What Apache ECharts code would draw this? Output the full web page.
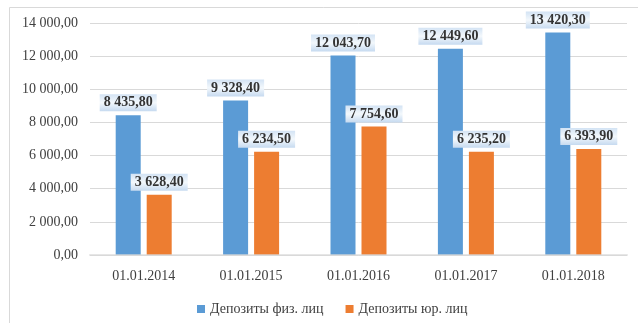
<!DOCTYPE html>
<html>
<head>
<meta charset="utf-8">
<script src="https://cdn.jsdelivr.net/npm/echarts@6/dist/echarts.min.js"></script>
<style>
  html, body { margin: 0; padding: 0; background: #fff; }
  #chart { width: 638px; height: 323px; }
</style>
</head>
<body>
<div id="chart"></div>
<script>
// Deposit volumes by reporting date
const dates = ['01.01.2014', '01.01.2015', '01.01.2016', '01.01.2017', '01.01.2018'];
const individualDeposits = [8435.80, 9328.40, 12043.70, 12449.60, 13420.30];
const corporateDeposits = [3628.40, 6234.50, 7754.60, 6235.20, 6393.90];
const seriesNames = ['Депозиты физ. лиц', 'Депозиты юр. лиц'];

const FONT = '"Liberation Serif", "Times New Roman", serif';
const TEXT = '#404040';

// "12 043,70" style number formatting
function fmt(v) {
  const parts = Number(v).toFixed(2).split('.');
  const int = parts[0].replace(/\B(?=(\d{3})+(?!\d))/g, ' ');
  return int + ',' + parts[1];
}

const labelBox = {
  type: 'linear', x: 0, y: 0, x2: 0, y2: 1,
  colorStops: [
    { offset: 0, color: '#d3e3f4' },
    { offset: 0.5, color: '#f3f8fc' },
    { offset: 1, color: '#c6daf0' }
  ]
};

function barLabel() {
  return {
    show: true,
    position: 'top',
    distance: 4,
    formatter: p => fmt(p.value),
    fontFamily: FONT,
    fontWeight: 'bold',
    fontSize: 14,
    lineHeight: 15,
    color: '#333333',
    backgroundColor: labelBox,
    padding: [1, 4, 1, 4]
  };
}

const chart = echarts.init(document.getElementById('chart'), null, { renderer: 'canvas' });
chart.setOption({
  animation: false,
  backgroundColor: '#fff',
  graphic: [
    { type: 'line', shape: { x1: 9.5, y1: 7.5, x2: 638, y2: 7.5 }, style: { stroke: '#d9d9d9', lineWidth: 1 } },
    { type: 'line', shape: { x1: 9.5, y1: 7.5, x2: 9.5, y2: 323 }, style: { stroke: '#d9d9d9', lineWidth: 1 } }
  ],
  grid: { left: 90, right: 11, top: 23, bottom: 68, containLabel: false },
  legend: {
    top: 302,
    left: 197,
    padding: 0,
    itemWidth: 8,
    itemHeight: 8,
    itemGap: 22,
    icon: 'rect',
    textStyle: { fontFamily: FONT, fontSize: 14, color: TEXT },
    data: seriesNames
  },
  xAxis: {
    type: 'category',
    data: dates,
    z: 5,
    axisLine: { show: true, lineStyle: { color: 'rgba(217,217,217,0.65)', width: 2 } },
    axisTick: { show: false },
    axisLabel: { fontFamily: FONT, fontSize: 14, color: TEXT, margin: 14 }
  },
  yAxis: {
    type: 'value',
    min: 0,
    max: 14000,
    interval: 2000,
    axisLine: { show: false },
    axisTick: { show: false },
    splitLine: { lineStyle: { color: '#d9d9d9', width: 1 } },
    axisLabel: { fontFamily: FONT, fontSize: 14, color: TEXT, margin: 12, formatter: v => fmt(v) }
  },
  series: [
    {
      name: seriesNames[0],
      type: 'bar',
      data: individualDeposits,
      barWidth: 25,
      barGap: '24%',
      itemStyle: { color: '#5b9bd5' },
      label: barLabel()
    },
    {
      name: seriesNames[1],
      type: 'bar',
      data: corporateDeposits,
      barWidth: 25,
      itemStyle: { color: '#ed7d31' },
      label: barLabel()
    }
  ]
});
</script>
</body>
</html>
